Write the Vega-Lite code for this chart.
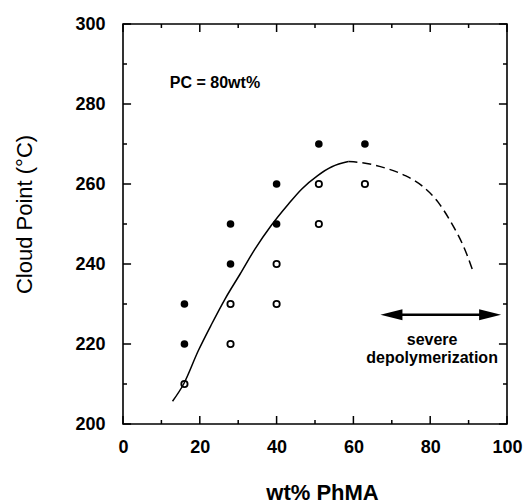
{
  "$schema": "https://vega.github.io/schema/vega-lite/v6.json",
  "width": 384,
  "height": 400,
  "autosize": "none",
  "padding": {"left": 123, "top": 24, "right": 17, "bottom": 80},
  "background": "white",
  "config": {
    "view": {"stroke": "black", "strokeWidth": 1.6},
    "font": "Liberation Sans",
    "axis": {
      "domain": false,
      "ticks": false,
      "tickSize": 0,
      "grid": false,
      "labelFont": "Liberation Sans",
      "labelFontWeight": "bold",
      "labelFontSize": 18,
      "labelColor": "black",
      "titleFont": "Liberation Sans",
      "titleColor": "black"
    }
  },
  "datasets": {
    "curve": [
      {"x": 12.9, "y": 205.7, "seg": "solid"},
      {"x": 15.8, "y": 210, "seg": "solid"},
      {"x": 19.6, "y": 218.3, "seg": "solid"},
      {"x": 23.1, "y": 225, "seg": "solid"},
      {"x": 26.6, "y": 231.3, "seg": "solid"},
      {"x": 30.5, "y": 237.5, "seg": "solid"},
      {"x": 34.4, "y": 243.8, "seg": "solid"},
      {"x": 38.5, "y": 249.5, "seg": "solid"},
      {"x": 43.1, "y": 255, "seg": "solid"},
      {"x": 46.5, "y": 258.7, "seg": "solid"},
      {"x": 50.7, "y": 262.1, "seg": "solid"},
      {"x": 54.4, "y": 264.3, "seg": "solid"},
      {"x": 58.7, "y": 265.6, "seg": "solid"},
      {"x": 58.7, "y": 265.6, "seg": "dashed"},
      {"x": 63.1, "y": 265.2, "seg": "dashed"},
      {"x": 68.3, "y": 264, "seg": "dashed"},
      {"x": 73.5, "y": 262.1, "seg": "dashed"},
      {"x": 77.8, "y": 259.6, "seg": "dashed"},
      {"x": 82.1, "y": 255.4, "seg": "dashed"},
      {"x": 85.2, "y": 250.8, "seg": "dashed"},
      {"x": 89.5, "y": 242.5, "seg": "dashed"},
      {"x": 91.3, "y": 237.7, "seg": "dashed"}
    ],
    "points": [
      {"x": 16, "y": 230, "type": "filled"},
      {"x": 16, "y": 220, "type": "filled"},
      {"x": 28, "y": 250, "type": "filled"},
      {"x": 28, "y": 240, "type": "filled"},
      {"x": 40, "y": 260, "type": "filled"},
      {"x": 40, "y": 250, "type": "filled"},
      {"x": 51, "y": 270, "type": "filled"},
      {"x": 63, "y": 270, "type": "filled"},
      {"x": 16, "y": 210, "type": "open"},
      {"x": 28, "y": 230, "type": "open"},
      {"x": 28, "y": 220, "type": "open"},
      {"x": 40, "y": 240, "type": "open"},
      {"x": 40, "y": 230, "type": "open"},
      {"x": 51, "y": 260, "type": "open"},
      {"x": 51, "y": 250, "type": "open"},
      {"x": 63, "y": 260, "type": "open"}
    ],
    "xticks": [
      {"v": 0}, {"v": 10}, {"v": 20}, {"v": 30}, {"v": 40}, {"v": 50},
      {"v": 60}, {"v": 70}, {"v": 80}, {"v": 90}, {"v": 100}
    ],
    "yticks": [
      {"v": 200}, {"v": 210}, {"v": 220}, {"v": 230}, {"v": 240}, {"v": 250},
      {"v": 260}, {"v": 270}, {"v": 280}, {"v": 290}, {"v": 300}
    ],
    "arrow": [{"x": 69.9, "x2": 95.6, "y": 227.3}],
    "heads": [
      {"x": 69.9, "y": 227.3, "dir": "left"},
      {"x": 95.6, "y": 227.3, "dir": "right"}
    ],
    "notes": [
      {"x": 12.2, "y": 284, "text": "PC = 80wt%", "kind": "pc"},
      {"x": 80.5, "y": 219.8, "text": "severe", "kind": "dep"},
      {"x": 80.5, "y": 215.2, "text": "depolymerization", "kind": "dep"}
    ]
  },
  "layer": [
    {
      "data": {"name": "curve"},
      "transform": [{"filter": "datum.seg === 'solid'"}],
      "mark": {"type": "line", "color": "black", "strokeWidth": 1.5, "interpolate": "monotone"},
      "encoding": {
        "x": {"field": "x", "type": "quantitative",
              "scale": {"domain": [0, 100], "nice": false, "zero": false},
              "axis": {"orient": "bottom", "values": [0, 20, 40, 60, 80, 100],
                       "labelPadding": 28, "labelBaseline": "alphabetic", "labelFlush": false, "labelOverlap": false,
                       "title": "wt% PhMA", "titleFontSize": 22, "titleFontWeight": "bold",
                       "titleX": 199, "titleY": 75, "titleBaseline": "alphabetic", "titleAlign": "center"}},
        "y": {"field": "y", "type": "quantitative",
              "scale": {"domain": [200, 300], "nice": false, "zero": false},
              "axis": {"orient": "left", "values": [200, 220, 240, 260, 280, 300],
                       "labelPadding": 18, "labelBaseline": "middle", "labelFlush": false, "labelOverlap": false,
                       "title": "Cloud Point (°C)", "titleFontSize": 22, "titleFontWeight": "normal",
                       "titleAngle": -90, "titleX": -99, "titleY": 190, "titleBaseline": "middle", "titleAlign": "center"}}
      }
    },
    {
      "data": {"name": "curve"},
      "transform": [{"filter": "datum.seg === 'dashed'"}],
      "mark": {"type": "line", "color": "black", "strokeWidth": 1.5, "strokeDash": [9, 5], "interpolate": "monotone"},
      "encoding": {
        "x": {"field": "x", "type": "quantitative"},
        "y": {"field": "y", "type": "quantitative"}
      }
    },
    {
      "data": {"name": "xticks"},
      "transform": [{"filter": "datum.v % 20 === 0"}],
      "mark": {"type": "rule", "color": "black", "strokeWidth": 1.5},
      "encoding": {"x": {"field": "v", "type": "quantitative"}, "y": {"datum": 200}, "y2": {"datum": 202}}
    },
    {
      "data": {"name": "xticks"},
      "transform": [{"filter": "datum.v % 20 !== 0"}],
      "mark": {"type": "rule", "color": "black", "strokeWidth": 1.5},
      "encoding": {"x": {"field": "v", "type": "quantitative"}, "y": {"datum": 200}, "y2": {"datum": 201}}
    },
    {
      "data": {"name": "xticks"},
      "transform": [{"filter": "datum.v % 20 === 0"}],
      "mark": {"type": "rule", "color": "black", "strokeWidth": 1.5},
      "encoding": {"x": {"field": "v", "type": "quantitative"}, "y": {"datum": 300}, "y2": {"datum": 298}}
    },
    {
      "data": {"name": "xticks"},
      "transform": [{"filter": "datum.v % 20 !== 0"}],
      "mark": {"type": "rule", "color": "black", "strokeWidth": 1.5},
      "encoding": {"x": {"field": "v", "type": "quantitative"}, "y": {"datum": 300}, "y2": {"datum": 299}}
    },
    {
      "data": {"name": "yticks"},
      "transform": [{"filter": "datum.v % 20 === 0"}],
      "mark": {"type": "rule", "color": "black", "strokeWidth": 1.5},
      "encoding": {"y": {"field": "v", "type": "quantitative"}, "x": {"datum": 0}, "x2": {"datum": 2.1}}
    },
    {
      "data": {"name": "yticks"},
      "transform": [{"filter": "datum.v % 20 !== 0"}],
      "mark": {"type": "rule", "color": "black", "strokeWidth": 1.5},
      "encoding": {"y": {"field": "v", "type": "quantitative"}, "x": {"datum": 0}, "x2": {"datum": 1.05}}
    },
    {
      "data": {"name": "yticks"},
      "transform": [{"filter": "datum.v % 20 === 0"}],
      "mark": {"type": "rule", "color": "black", "strokeWidth": 1.5},
      "encoding": {"y": {"field": "v", "type": "quantitative"}, "x": {"datum": 100}, "x2": {"datum": 97.9}}
    },
    {
      "data": {"name": "yticks"},
      "transform": [{"filter": "datum.v % 20 !== 0"}],
      "mark": {"type": "rule", "color": "black", "strokeWidth": 1.5},
      "encoding": {"y": {"field": "v", "type": "quantitative"}, "x": {"datum": 100}, "x2": {"datum": 98.95}}
    },
    {
      "data": {"name": "points"},
      "transform": [{"filter": "datum.type === 'filled'"}],
      "mark": {"type": "point", "shape": "circle", "filled": true, "color": "black", "size": 58, "opacity": 1},
      "encoding": {
        "x": {"field": "x", "type": "quantitative"},
        "y": {"field": "y", "type": "quantitative"}
      }
    },
    {
      "data": {"name": "points"},
      "transform": [{"filter": "datum.type === 'open'"}],
      "mark": {"type": "point", "shape": "circle", "filled": false, "color": "black", "size": 40, "strokeWidth": 1.8, "opacity": 1},
      "encoding": {
        "x": {"field": "x", "type": "quantitative"},
        "y": {"field": "y", "type": "quantitative"}
      }
    },
    {
      "data": {"name": "arrow"},
      "mark": {"type": "rule", "color": "black", "strokeWidth": 2.5},
      "encoding": {
        "x": {"field": "x", "type": "quantitative"},
        "x2": {"field": "x2"},
        "y": {"field": "y", "type": "quantitative"}
      }
    },
    {
      "data": {"name": "heads"},
      "transform": [{"filter": "datum.dir === 'left'"}],
      "mark": {"type": "point", "shape": "M -1 0 L 1 -0.5 L 1 0.5 Z", "filled": true, "color": "black", "size": 484, "opacity": 1},
      "encoding": {
        "x": {"field": "x", "type": "quantitative"},
        "y": {"field": "y", "type": "quantitative"}
      }
    },
    {
      "data": {"name": "heads"},
      "transform": [{"filter": "datum.dir === 'right'"}],
      "mark": {"type": "point", "shape": "M 1 0 L -1 -0.5 L -1 0.5 Z", "filled": true, "color": "black", "size": 484, "opacity": 1},
      "encoding": {
        "x": {"field": "x", "type": "quantitative"},
        "y": {"field": "y", "type": "quantitative"}
      }
    },
    {
      "data": {"name": "notes"},
      "transform": [{"filter": "datum.kind === 'pc'"}],
      "mark": {"type": "text", "align": "left", "baseline": "alphabetic", "font": "Liberation Sans", "fontWeight": "bold", "fontSize": 16, "color": "black"},
      "encoding": {
        "x": {"field": "x", "type": "quantitative"},
        "y": {"field": "y", "type": "quantitative"},
        "text": {"field": "text"}
      }
    },
    {
      "data": {"name": "notes"},
      "transform": [{"filter": "datum.kind === 'dep'"}],
      "mark": {"type": "text", "align": "center", "baseline": "alphabetic", "font": "Liberation Sans", "fontWeight": "bold", "fontSize": 16, "color": "black"},
      "encoding": {
        "x": {"field": "x", "type": "quantitative"},
        "y": {"field": "y", "type": "quantitative"},
        "text": {"field": "text"}
      }
    }
  ]
}
